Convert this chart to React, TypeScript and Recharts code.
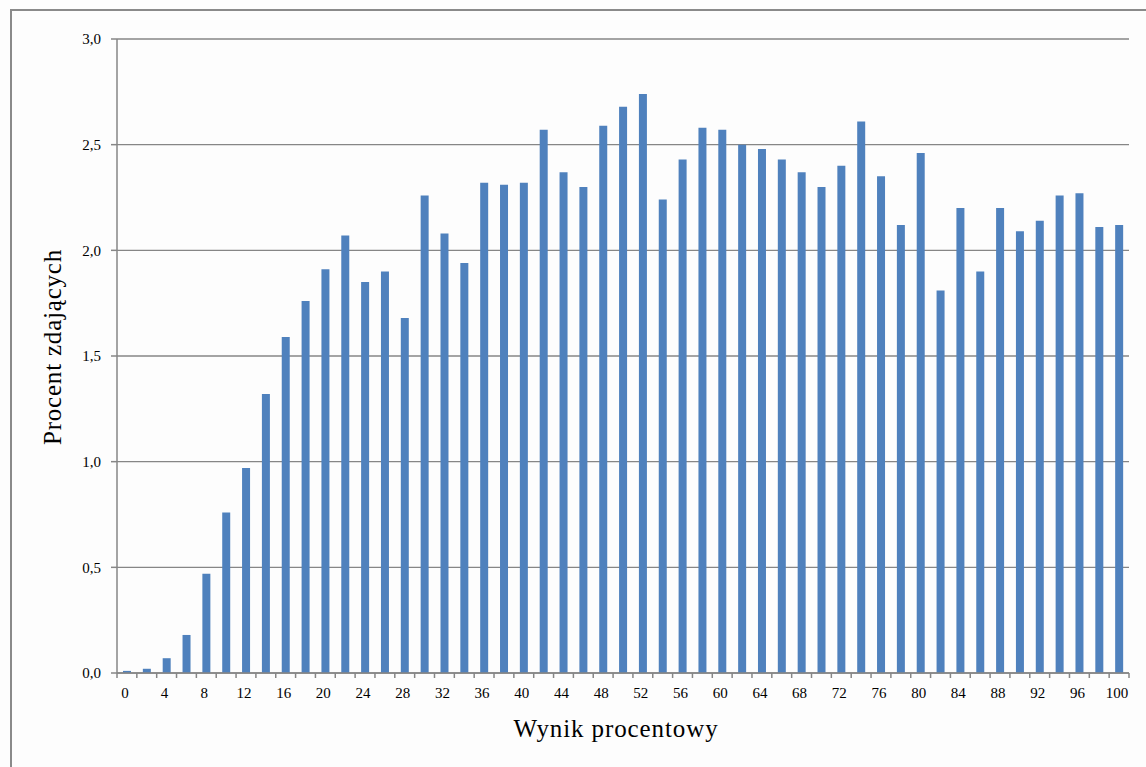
import { BarChart, Bar, XAxis, YAxis, CartesianGrid } from 'recharts';

const scores = [
  '0', '2', '4', '6', '8', '10', '12', '14', '16', '18',
  '20', '22', '24', '26', '28', '30', '32', '34', '36', '38',
  '40', '42', '44', '46', '48', '50', '52', '54', '56', '58',
  '60', '62', '64', '66', '68', '70', '72', '74', '76', '78',
  '80', '82', '84', '86', '88', '90', '92', '94', '96', '98', '100',
];

const percents = [
  0.01, 0.02, 0.07, 0.18, 0.47, 0.76, 0.97, 1.32, 1.59, 1.76,
  1.91, 2.07, 1.85, 1.9, 1.68, 2.26, 2.08, 1.94, 2.32, 2.31,
  2.32, 2.57, 2.37, 2.3, 2.59, 2.68, 2.74, 2.24, 2.43, 2.58,
  2.57, 2.5, 2.48, 2.43, 2.37, 2.3, 2.4, 2.61, 2.35, 2.12,
  2.46, 1.81, 2.2, 1.9, 2.2, 2.09, 2.14, 2.26, 2.27, 2.11, 2.12,
];

const yTicks = [0, 0.5, 1, 1.5, 2, 2.5, 3];

const data = scores.map((s, i) => ({ score: s, pct: percents[i] }));

const FONT = '"Liberation Serif", "Times New Roman", serif';
const GRID = '#868686';

// Excel-style ticks: marks between categories, label on every other category
function ScoreTick(props: any) {
  const { x, y, payload, index } = props;
  const half = payload.offset || 0;
  const last = index === scores.length - 1;
  return (
    <g>
      <line x1={x - half} y1={y - 8} x2={x - half} y2={y - 3} stroke={GRID} strokeWidth={1.5} />
      {last && <line x1={x + half} y1={y - 8} x2={x + half} y2={y - 3} stroke={GRID} strokeWidth={1.5} />}
      {index % 2 === 0 && (
        <text x={x - 2} y={y + 17} textAnchor="middle" fontFamily={FONT} fontSize={15} fill="#000">
          {payload.value}
        </text>
      )}
    </g>
  );
}

export default function App() {
  return (
    <div style={{ position: 'absolute', left: 0, top: 0, width: 1146, height: 767, overflow: 'hidden', background: '#fdfdfd' }}>
      <div
        style={{
          position: 'absolute', left: 10, top: 9, width: 1160, height: 780,
          border: '2.5px solid #8a8a8a', boxSizing: 'border-box',
        }}
      />
      <div style={{ position: 'absolute', left: 0, top: 0 }}>
        <BarChart
          width={1146}
          height={767}
          data={data}
          margin={{ top: 39, right: 17, left: 7, bottom: 24 }}
          barSize={8}
        >
          <CartesianGrid vertical={false} stroke={GRID} strokeWidth={1.3} />
          <XAxis
            dataKey="score"
            interval={0}
            height={70}
            stroke={GRID}
            strokeWidth={1.5}
            tickLine={false}
            tick={<ScoreTick />}
            label={{
              content: (p: any) => {
                const vb = p.viewBox;
                return (
                  <text x={vb.x + vb.width / 2 - 7} y={vb.y + 64} textAnchor="middle" fontFamily={FONT} fontSize={25} letterSpacing={0.9} fill="#000">
                    Wynik procentowy
                  </text>
                );
              },
            }}
          />
          <YAxis
            width={110}
            domain={[0, 3]}
            ticks={yTicks}
            stroke={GRID}
            strokeWidth={1.5}
            tickSize={6}
            tickMargin={10}
            tick={{ fill: '#000', fontFamily: FONT, fontSize: 15 }}
            tickFormatter={(v: number) => v.toFixed(1).replace('.', ',')}
            label={{
              content: (p: any) => {
                const vb = p.viewBox;
                const cx = vb.x + 45;
                const cy = vb.y + vb.height / 2 - 9;
                return (
                  <text x={cx} y={cy} transform={`rotate(-90, ${cx}, ${cy})`} textAnchor="middle" dominantBaseline="central" fontFamily={FONT} fontSize={25} letterSpacing={0.8} fill="#000">
                    Procent zdających
                  </text>
                );
              },
            }}
          />
          <Bar dataKey="pct" fill="#4f81bd" isAnimationActive={false} />
        </BarChart>
      </div>
    </div>
  );
}
